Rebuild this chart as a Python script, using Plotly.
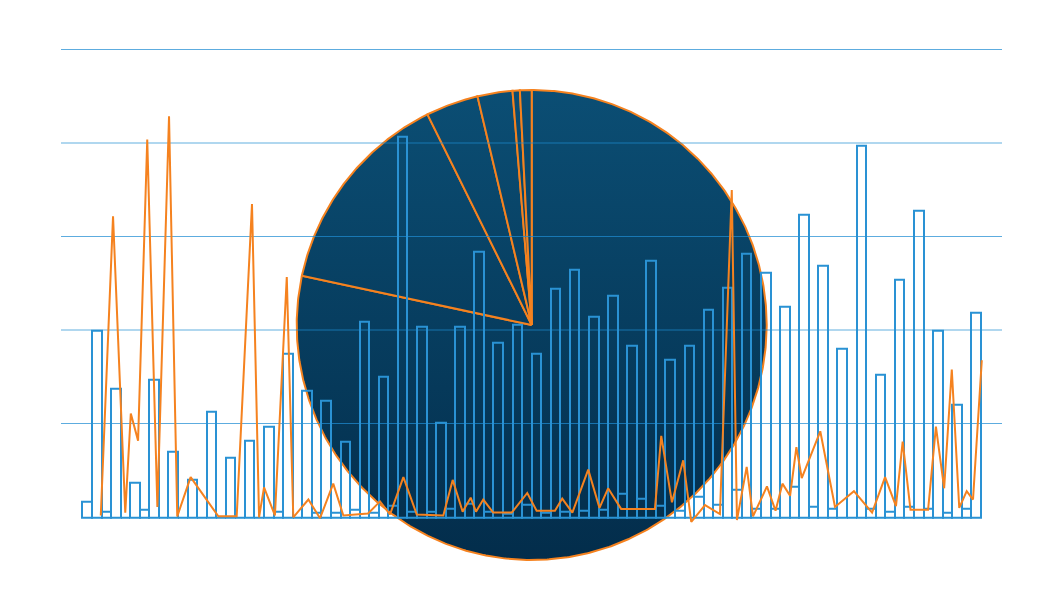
import math
import plotly.graph_objects as go

# ---------------- data ----------------
categories = list(range(47))

series_a = [0.17, 0.06, 0.00, 0.08, 0.00, 0.00, 0.00, 0.00, 0.00, 0.00,
            0.06, 0.00, 0.05, 0.05, 0.08, 0.05, 0.12, 0.06, 0.06, 0.09,
            0.15, 0.06, 0.04, 0.13, 0.05, 0.06, 0.07, 0.08, 0.25, 0.20,
            0.12, 0.07, 0.22, 0.13, 0.29, 0.09, 0.09, 0.33, 0.11, 0.09,
            0.00, 0.09, 0.06, 0.11, 0.09, 0.05, 0.09]

series_b = [1.99, 1.38, 0.37, 1.47, 0.70, 0.40, 1.13, 0.64, 0.82, 0.97,
            1.75, 1.35, 1.25, 0.81, 2.09, 1.50, 4.07, 2.04, 1.01, 2.04,
            2.84, 1.87, 2.06, 1.75, 2.44, 2.65, 2.15, 2.37, 1.84, 2.74,
            1.69, 1.84, 2.22, 2.45, 2.82, 2.62, 2.25, 3.24, 2.69, 1.80,
            3.97, 1.52, 2.54, 3.28, 2.00, 1.20, 2.19]

line_x = [0.46, 1.10, 1.74, 2.03, 2.41, 2.89, 3.42, 4.03, 4.46, 5.16,
          6.61, 7.57, 8.37, 8.74, 9.00, 9.57, 10.19, 10.53, 11.32, 11.93,
          12.62, 13.15, 14.44, 15.07, 15.59, 16.29, 16.99, 18.38, 18.87, 19.39,
          19.81, 20.09, 20.47, 20.99, 21.96, 22.77, 23.26, 24.22, 24.60, 25.13,
          25.96, 26.55, 27.00, 27.68, 29.45, 29.78, 30.34, 30.93, 31.35, 32.07,
          32.85, 33.47, 33.74, 34.25, 34.58, 35.31, 35.76, 36.12, 36.52, 36.85,
          37.13, 38.10, 38.87, 39.86, 40.81, 41.49, 42.06, 42.41, 42.82, 43.74,
          44.15, 44.58, 44.98, 45.37, 45.76, 46.09, 46.55]

line_y = [0.02, 3.22, 0.05, 1.11, 0.82, 4.04, 0.11, 4.29, 0.01, 0.43,
          0.01, 0.01, 3.35, 0.00, 0.32, 0.02, 2.57, 0.00, 0.19, -0.01,
          0.36, 0.02, 0.04, 0.17, 0.03, 0.43, 0.03, 0.02, 0.40, 0.06,
          0.21, 0.06, 0.19, 0.05, 0.05, 0.26, 0.07, 0.07, 0.20, 0.05,
          0.51, 0.10, 0.31, 0.09, 0.09, 0.87, 0.16, 0.61, -0.05, 0.13,
          0.035, 3.50, -0.03, 0.54, 0.01, 0.33, 0.07, 0.36, 0.23, 0.75,
          0.42, 0.92, 0.11, 0.28, 0.05, 0.43, 0.12, 0.81, 0.08, 0.08,
          0.97, 0.31, 1.58, 0.10, 0.28, 0.19, 1.68]

pie_labels = ["A", "B", "C", "D", "E", "F"]
pie_values = [78.2, 14.3, 3.6, 2.4, 0.5, 0.8]

# ---------------- layout constants (page pixels, minus the 8px body margin) ----------------
OFF = 8
W, H = 1064 - 2 * OFF, 593 - 2 * OFF
PX_LEFT, PX_RIGHT = 61 - OFF, 1002 - OFF
PX_CAT0, PX_PITCH = 92.0 - OFF, 19.115
PX_ZERO, PX_UNIT = 517.3 - OFF, 93.5
Y_RANGE = [-0.15, 5.3]
X_RANGE = [(PX_LEFT - PX_CAT0) / PX_PITCH, (PX_RIGHT - PX_CAT0) / PX_PITCH]
Y_DOMAIN = [(H - (PX_ZERO - Y_RANGE[0] * PX_UNIT)) / H,
            (H - (PX_ZERO - Y_RANGE[1] * PX_UNIT)) / H]

PIE_CX, PIE_CY, PIE_R = 531.7 - OFF, 325.0 - OFF, 235.0
PIE_TOP_COLOR, PIE_BOTTOM_COLOR = "#0b4e74", "#032d4b"
ORANGE = "#f5821f"
BAR_BLUE = "#2a92d4"

fig = go.Figure()

# ---------------- pie (drawn first, beneath the bar subplot) ----------------
total = sum(pie_values)
start = 0.0
for lab, v in zip(pie_labels, pie_values):
    sweep = 360.0 * v / total
    n = max(2, int(math.ceil(sweep / 0.5)))
    xs, ys = [PIE_CX], [PIE_CY]
    for i in range(n + 1):
        a = math.radians(start + sweep * i / n)
        xs.append(PIE_CX + PIE_R * math.sin(a))
        ys.append(PIE_CY - PIE_R * math.cos(a))
    xs.append(PIE_CX)
    ys.append(PIE_CY)
    fig.add_trace(go.Scatter(
        x=xs, y=ys, mode="lines", fill="toself", name=lab,
        line=dict(color=ORANGE, width=2),
        fillgradient=dict(type="vertical",
                          colorscale=[[0, PIE_TOP_COLOR], [1, PIE_BOTTOM_COLOR]],
                          start=PIE_CY - PIE_R, stop=PIE_CY + PIE_R),
        xaxis="x", yaxis="y", hoverinfo="skip", showlegend=False))
    start += sweep

# ---------------- bars ----------------
for vals in (series_a, series_b):
    fig.add_trace(go.Bar(
        x=categories, y=vals, xaxis="x2", yaxis="y2",
        marker=dict(color="rgba(0,0,0,0)", line=dict(color=BAR_BLUE, width=2)),
        showlegend=False))

# ---------------- line ----------------
fig.add_trace(go.Scatter(
    x=line_x, y=line_y, mode="lines", xaxis="x2", yaxis="y3",
    line=dict(color=ORANGE, width=2), showlegend=False))

axis_off = dict(showticklabels=False, ticks="", showline=False, zeroline=False)

fig.update_layout(
    template="none",
    width=W, height=H,
    margin=dict(l=0, r=0, t=0, b=0),
    paper_bgcolor="white", plot_bgcolor="rgba(0,0,0,0)",
    showlegend=False,
    barmode="group", bargap=0, bargroupgap=0,
    xaxis=dict(domain=[0, 1], range=[0, W], visible=False),
    yaxis=dict(domain=[0, 1], range=[H, 0], visible=False),
    xaxis2=dict(domain=[PX_LEFT / W, PX_RIGHT / W], range=X_RANGE, anchor="y2",
                showgrid=False, **axis_off),
    yaxis2=dict(domain=Y_DOMAIN, range=Y_RANGE, anchor="x2",
                tickmode="array", tickvals=[1, 3, 5],
                showgrid=True, gridcolor="rgba(30,140,210,0.72)", gridwidth=1,
                **axis_off),
    yaxis3=dict(domain=Y_DOMAIN, range=Y_RANGE, anchor="x2", overlaying="y2",
                tickmode="array", tickvals=[2, 4],
                showgrid=True, gridcolor="rgba(30,140,210,0.35)", gridwidth=2,
                **axis_off),
)

fig.write_html("out.html")
